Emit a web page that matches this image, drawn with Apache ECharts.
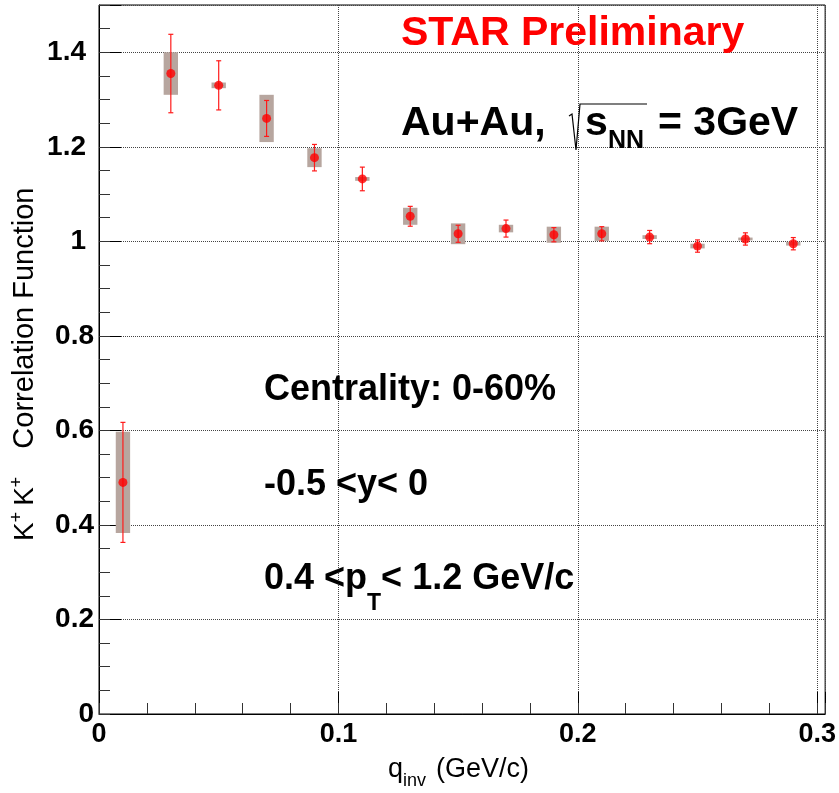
<!DOCTYPE html>
<html>
<head>
<meta charset="utf-8">
<script src="https://cdn.jsdelivr.net/npm/echarts@6/dist/echarts.min.js"></script>
<style>
  html, body { margin: 0; padding: 0; background: #fff; }
  #chart { width: 839px; height: 793px; }
</style>
</head>
<body>
<div id="chart"></div>
<script>
// K+K+ correlation function, Au+Au 3 GeV
const qinv = [0.01, 0.03, 0.05, 0.07, 0.09, 0.11, 0.13, 0.15, 0.17, 0.19, 0.21, 0.23, 0.25, 0.27, 0.29]
const cf = [0.490, 1.355, 1.330, 1.260, 1.177, 1.132, 1.053, 1.016, 1.027, 1.014, 1.016, 1.009, 0.990, 1.005, 0.995]
const statErr = [0.127, 0.083, 0.052, 0.038, 0.028, 0.025, 0.021, 0.018, 0.018, 0.015, 0.015, 0.014, 0.013, 0.013, 0.013]
const sysErr = [0.107, 0.045, 0.006, 0.050, 0.020, 0.004, 0.018, 0.022, 0.008, 0.017, 0.015, 0.004, 0.005, 0.003, 0.004]

const xTicks = [0, 0.1, 0.2, 0.3]
const xTickLabels = ['0', '0.1', '0.2', '0.3']
const yTicks = [0, 0.2, 0.4, 0.6, 0.8, 1.0, 1.2, 1.4]
const yTickLabels = ['0', '0.2', '0.4', '0.6', '0.8', '1', '1.2', '1.4']

const FONT = '"Liberation Sans", Arial, Helvetica, sans-serif'
const X_MAX = 0.3033
const Y_MAX = 1.5
const BOX_HALF = 0.003

const measureCtx = document.createElement('canvas').getContext('2d')
function textWidth(t, size, weight) {
  measureCtx.font = weight + ' ' + size + 'px ' + FONT
  return measureCtx.measureText(t).width
}

// one text piece, placed by its left edge and baseline
function txt(t, x, baseline, size, weight, fill) {
  return {
    type: 'text',
    x: x,
    y: baseline - 0.35 * size,
    silent: true,
    z: 100,
    style: {
      text: t,
      font: weight + ' ' + size + 'px ' + FONT,
      fill: fill || '#000',
      align: 'left',
      verticalAlign: 'middle',
      textAlign: 'left',
      textVerticalAlign: 'middle'
    }
  }
}

// pieces laid one after another (for sub/superscripts)
function runs(x, baseline, parts, weight, fill) {
  const out = []
  let cx = x
  parts.forEach(p => {
    if (p.gap) { cx += p.gap; return }
    out.push(txt(p.t, cx, baseline + (p.dy || 0), p.s, weight, fill))
    cx += textWidth(p.t, p.s, weight)
  })
  return out
}

function tickIndex(ticks, v) {
  return ticks.findIndex(t => Math.abs(t - v) < 1e-6)
}

function renderSys(params, api) {
  const x = api.value(0)
  const y = api.value(1)
  const s = api.value(2)
  const p1 = api.coord([x - BOX_HALF, y + s])
  const p2 = api.coord([x + BOX_HALF, y - s])
  return {
    type: 'rect',
    shape: { x: p1[0], y: p1[1], width: p2[0] - p1[0], height: p2[1] - p1[1] },
    style: { fill: '#b7a69f' }
  }
}

function renderStat(params, api) {
  const x = api.value(0)
  const y = api.value(1)
  const e = api.value(2)
  const top = api.coord([x, y + e])
  const bot = api.coord([x, y - e])
  const cap = 2.5
  const st = { stroke: '#ff1a1a', lineWidth: 1.2 }
  return {
    type: 'group',
    children: [
      { type: 'line', shape: { x1: top[0], y1: top[1], x2: bot[0], y2: bot[1] }, style: st },
      { type: 'line', shape: { x1: top[0] - cap, y1: top[1], x2: top[0] + cap, y2: top[1] }, style: st },
      { type: 'line', shape: { x1: bot[0] - cap, y1: bot[1], x2: bot[0] + cap, y2: bot[1] }, style: st }
    ]
  }
}

const graphics = [].concat(
  [txt('STAR Preliminary', 401, 48, 41, 'bold', '#ff0000')],
  [txt('Au+Au,', 401, 138, 41, 'bold')],
  [{
    type: 'polyline',
    silent: true,
    z: 100,
    shape: { points: [[569, 116], [572, 114], [576, 150], [580, 104], [647, 104]] },
    style: { stroke: '#000', lineWidth: 1.2, fill: null }
  }],
  [txt('s', 585, 138, 41, 'bold')],
  [txt('NN', 608, 150, 25, 'bold')],
  [txt('= 3GeV', 658, 138, 41, 'bold')],
  [txt('Centrality: 0-60%', 264, 403, 36, 'bold')],
  [txt('-0.5 <y< 0', 264, 498, 36, 'bold')],
  runs(264, 592, [
    { t: '0.4 <p', s: 36 },
    { t: 'T', s: 23, dy: 20 },
    { t: '< 1.2 GeV/c', s: 36 }
  ], 'bold'),
  runs(388, 779, [
    { t: 'q', s: 27 },
    { t: 'inv', s: 18, dy: 8 },
    { gap: 10 },
    { t: '(GeV/c)', s: 27 }
  ], 'normal'),
  [{
    type: 'group',
    x: 35,
    y: 541,
    rotation: Math.PI / 2,
    children: runs(0, 0, [
      { t: 'K', s: 28 },
      { t: '+', s: 18, dy: -12 },
      { gap: 6 },
      { t: 'K', s: 28 },
      { t: '+', s: 18, dy: -12 },
      { gap: 28 },
      { t: 'Correlation Function', s: 29 }
    ], 'normal')
  }]
)

const chart = echarts.init(document.getElementById('chart'), null, { renderer: 'canvas' })
chart.setOption({
  backgroundColor: '#fff',
  animation: false,
  grid: {
    left: 99,
    top: 5,
    width: 728,
    height: 709,
    show: true,
    borderColor: '#000',
    borderWidth: 1,
    backgroundColor: 'transparent'
  },
  xAxis: [{
    type: 'value',
    position: 'bottom',
    min: 0,
    max: X_MAX,
    interval: 0.1,
    axisLine: { lineStyle: { color: '#000', width: 1 } },
    axisTick: { inside: true, length: 22, lineStyle: { color: '#000' } },
    axisLabel: {
      margin: 7,
      fontSize: 27,
      fontWeight: 'bold',
      fontFamily: FONT,
      color: '#000',
      formatter: v => {
        const i = tickIndex(xTicks, v)
        return i >= 0 ? xTickLabels[i] : ''
      }
    },
    splitLine: { show: true, lineStyle: { type: 'dotted', color: '#444', width: 1 } }
  }, {
    type: 'value',
    position: 'bottom',
    min: 0,
    max: X_MAX,
    interval: 0.02,
    axisLine: { show: false },
    axisTick: { inside: true, length: 11, lineStyle: { color: '#333' } },
    axisLabel: { show: false },
    splitLine: { show: false }
  }],
  yAxis: [{
    type: 'value',
    position: 'left',
    min: 0,
    max: Y_MAX,
    interval: 0.2,
    axisLine: { show: true, lineStyle: { color: '#000', width: 1 } },
    axisTick: { show: true, inside: true, length: 22, lineStyle: { color: '#000' } },
    axisLabel: {
      margin: 5,
      color: '#000',
      formatter: v => {
        const i = tickIndex(yTicks, v)
        if (i < 0) return ''
        return (v >= 1 ? '{b|' : '{a|') + yTickLabels[i] + '}'
      },
      rich: {
        a: { fontSize: 28, fontWeight: 'bold', fontFamily: FONT, color: '#000' },
        b: { fontSize: 28, fontWeight: 'bold', fontFamily: FONT, color: '#000', padding: [0, 8, 0, 0] }
      }
    },
    splitLine: { show: true, lineStyle: { type: 'dotted', color: '#444', width: 1 } }
  }, {
    type: 'value',
    position: 'left',
    min: 0,
    max: Y_MAX,
    interval: 0.05,
    axisLine: { show: false },
    axisTick: { show: true, inside: true, length: 11, lineStyle: { color: '#333' } },
    axisLabel: { show: false },
    splitLine: { show: false }
  }],
  series: [{
    name: 'sys',
    type: 'custom',
    renderItem: renderSys,
    data: qinv.map((q, i) => [q, cf[i], sysErr[i]]),
    z: 2
  }, {
    name: 'stat',
    type: 'custom',
    renderItem: renderStat,
    data: qinv.map((q, i) => [q, cf[i], statErr[i]]),
    z: 3
  }, {
    name: 'CF',
    type: 'scatter',
    symbol: 'circle',
    symbolSize: 9,
    itemStyle: { color: '#ff0000' },
    data: qinv.map((q, i) => [q, cf[i]]),
    z: 4
  }],
  graphic: graphics
})
</script>
</body>
</html>
